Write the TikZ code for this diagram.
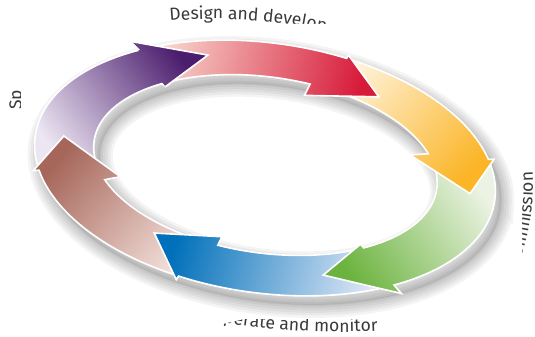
\documentclass[tikz,border=0pt]{standalone}
\usepackage{fontspec}
\setmainfont{Fira Sans}
\usetikzlibrary{decorations.text}

\definecolor{purpledark}{HTML}{4B1D6E}
\definecolor{purplelight}{HTML}{ECE6F2}
\definecolor{reddark}{HTML}{D71A3A}
\definecolor{redlight}{HTML}{F8D8CE}
\definecolor{yellowdark}{HTML}{FBB527}
\definecolor{yellowlight}{HTML}{FFF4DE}
\definecolor{greendark}{HTML}{6BB33E}
\definecolor{greenlight}{HTML}{ECF3E4}
\definecolor{bluedark}{HTML}{0070BA}
\definecolor{bluelight}{HTML}{DFE8F6}
\definecolor{browndark}{HTML}{A6665A}
\definecolor{brownlight}{HTML}{F4E2DC}
\definecolor{labelgray}{HTML}{3A3A3A}

\newcommand{\labelfont}{\fontsize{17.5}{21}\selectfont}

% t = angle round the ring, s = 0 on the inner edge, 1 on the outer edge
\tikzset{
  declare function={
    ringlx(\tpar,\spar)=(173+59*(\spar))*cos(\tpar);
    ringly(\tpar,\spar)=3-3*(\spar)+(88+37*(\spar))*sin(\tpar);
    ringx(\tpar,\spar)=265+ringlx(\tpar,\spar)*cos(8)+ringly(\tpar,\spar)*sin(8);
    ringy(\tpar,\spar)=169-ringlx(\tpar,\spar)*sin(8)+ringly(\tpar,\spar)*cos(8);
  },
  arrowedge/.style={draw=white, line width=1.6pt},
  purplearrow/.style={arrowedge, bottom color=purplelight, top color=purpledark, shading angle=-53},
  redarrow/.style={arrowedge, bottom color=redlight, top color=reddark, shading angle=-102},
  yellowarrow/.style={arrowedge, bottom color=yellowlight, top color=yellowdark, shading angle=-132},
  greenarrow/.style={arrowedge, bottom color=greenlight, top color=greendark, shading angle=124},
  bluearrow/.style={arrowedge, bottom color=bluelight, top color=bluedark, shading angle=76},
  brownarrow/.style={arrowedge, bottom color=brownlight, top color=browndark, shading angle=49},
}

% tail t (outer, inner), base t and s (outer barb), base t and s (inner barb), tip t and s
\newcommand{\ringarrow}[8]{%
  plot[domain=#1:#3, samples=30] ({ringx(\x,1)},{ringy(\x,1)})
  -- ({ringx(#3,#4)},{ringy(#3,#4)})
  -- ({ringx(#7,#8)},{ringy(#7,#8)})
  -- ({ringx(#5,#6)},{ringy(#5,#6)})
  -- plot[domain=#5:#2, samples=30] ({ringx(\x,0)},{ringy(\x,0)})
  -- cycle}
\newcommand{\ringshape}{%
  plot[domain=0:360, samples=90] ({ringx(\x,1)},{ringy(\x,1)}) -- cycle
  plot[domain=0:360, samples=90] ({ringx(\x,0)},{ringy(\x,0)}) -- cycle}

\begin{document}
\begin{tikzpicture}[x=1pt, y=1pt]
\useasboundingbox (0,0) rectangle (535,337);
\fill[white] (0,0) rectangle (535,337);

% labels
\path[decorate, decoration={text along path, text color=labelgray,
    text={|\labelfont|Design and develop}}]
  ({215+280*cos(99.25)},{162+156*sin(99.25)}) arc[start angle=99.25, end angle=40, x radius=280, y radius=156];
\path[decorate, decoration={text along path, text color=labelgray, text align=right,
    text={|\labelfont|Commission}}]
  ({313+220*cos(-32)},{152+220*sin(-32)}) arc[start angle=-32, end angle=3.5, radius=220];
\path[decorate, decoration={text along path, text color=labelgray,
    text={|\labelfont|Operate and monitor}}]
  ({340+340*cos(247.7)},{161+156*sin(247.7)}) arc[start angle=247.7, end angle=310, x radius=340, y radius=156];
\node[rotate=90, anchor=base west, inner sep=0pt, font=\labelfont, text=labelgray] (spec) at (21.5,227) {Sp};

% white ground of the ring
\fill[white] (21,313) -- (522,313) -- (522,18) -- (244,18) -- (214,11) -- (21,11) -- cycle;

% shadow
\begin{scope}[shift={(6,-9)}]
  \foreach \w in {26,21,16,11,6,2}
    \draw[black, opacity=0.045, line width=\w pt] \ringshape;
  \fill[black, opacity=0.07, even odd rule] \ringshape;
\end{scope}

% arrows
\shade[purplearrow] \ringarrow{194.6}{203.8}{127.1}{1.26}{131.1}{-0.1}{110.4}{0.58};
\shade[brownarrow] \ringarrow{-108.7}{-103}{-164.4}{1.1}{-155.2}{-0.28}{-181.2}{0.52};
\shade[bluearrow] \ringarrow{-52.6}{-52}{-107.7}{1.1}{-102}{-0.23}{-122.4}{0.25};
\shade[greenarrow] \ringarrow{17.5}{21.6}{-51.6}{1.23}{-51}{-0.1}{-69}{0.5};
\shade[yellowarrow] \ringarrow{72.6}{78}{18.5}{1.1}{22.6}{-0.33}{1}{0.57};
\shade[redarrow] \ringarrow{126.1}{130.1}{73.6}{1.1}{79}{-0.36}{57.6}{0.32};

% purple head again, over the red tail
\begin{scope}
  \clip ({ringx(127.1,1.26)},{ringy(127.1,1.26)}) -- ({ringx(110.4,0.58)},{ringy(110.4,0.58)})
    -- ({ringx(131.1,-0.1)},{ringy(131.1,-0.1)}) -- cycle;
  \shade[purplearrow, draw=none] \ringarrow{194.6}{203.8}{127.1}{1.26}{131.1}{-0.1}{110.4}{0.58};
\end{scope}
\draw[arrowedge] ({ringx(127.1,1.26)},{ringy(127.1,1.26)}) -- ({ringx(110.4,0.58)},{ringy(110.4,0.58)})
  -- ({ringx(131.1,-0.1)},{ringy(131.1,-0.1)});
\end{tikzpicture}
\end{document}
